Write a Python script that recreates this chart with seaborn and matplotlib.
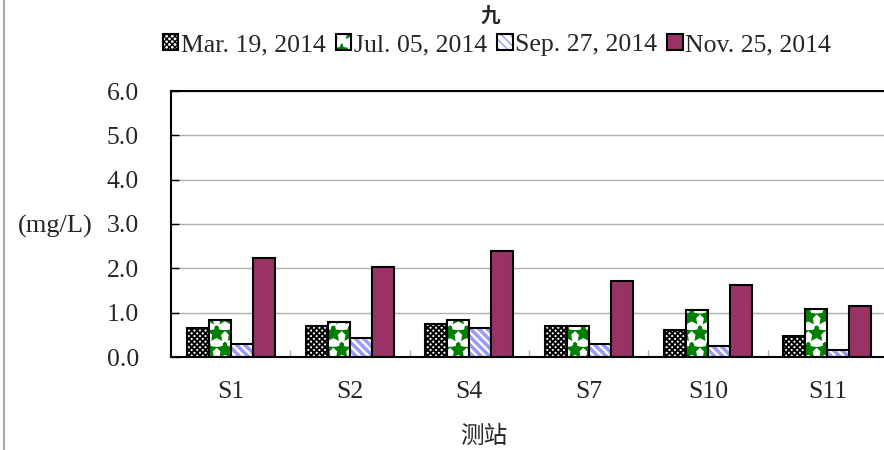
import pandas as pd
import matplotlib
matplotlib.use('Agg')
import matplotlib.pyplot as plt
import seaborn as sns
from matplotlib.colors import to_rgba
from matplotlib.lines import Line2D
from matplotlib.ticker import FixedLocator

# values (mg/L)
stations = ['S1', 'S2', 'S4', 'S7', 'S10', 'S11']
dates = ['Mar. 19, 2014', 'Jul. 05, 2014', 'Sep. 27, 2014', 'Nov. 25, 2014']
mar_19 = [0.66, 0.70, 0.74, 0.70, 0.62, 0.48]
jul_05 = [0.84, 0.79, 0.84, 0.70, 1.05, 1.08]
sep_27 = [0.29, 0.42, 0.65, 0.29, 0.25, 0.16]
nov_25 = [2.24, 2.02, 2.38, 1.71, 1.63, 1.15]
y_ticks = [0, 1, 2, 3, 4, 5, 6]

face_colors = ['white', 'white', 'white', '#993366']
hatch_colors = ['black', '#008000', '#9999ff', '#993366']
hatches = ['xxxxxx', '*', '\\\\\\\\', '']
hatch_widths = [1.4, 2.5, 2.5, 1.0]

long = pd.DataFrame({
    'station': stations * 4,
    'date': sum([[d] * len(stations) for d in dates], []),
    'value': mar_19 + jul_05 + sep_27 + nov_25,
})

sns.set_style('white')
plt.rcParams['font.family'] = ['Liberation Serif', 'Noto Sans CJK SC', 'DejaVu Sans']
plt.rcParams['hatch.linewidth'] = 1.0

fig = plt.figure(figsize=(8.84, 4.5), dpi=100)
ax = fig.add_axes([171 / 884, 93 / 450, 716 / 884, 266 / 450])

sns.barplot(data=long, x='station', y='value', hue='date', order=stations,
            hue_order=dates, palette=face_colors, width=0.74, gap=0,
            saturation=1, legend=False, ax=ax)

for i, container in enumerate(ax.containers):
    for p in container:
        p.set_facecolor(face_colors[i])
        p.set_hatch(hatches[i])
        p.set_edgecolor('black')
        p.set_linewidth(1.5)
        p._hatch_color = to_rgba(hatch_colors[i])
        if hasattr(p, 'set_hatch_linewidth'):
            p.set_hatch_linewidth(hatch_widths[i])

ax.set_ylim(0, 6)
ax.set_xlim(-0.5, len(stations) - 0.5)
ax.yaxis.set_major_locator(FixedLocator(y_ticks))
ax.set_yticklabels([f'{v:.1f}' for v in y_ticks])
ax.grid(axis='y', color='#b0b0b0', linewidth=1)
ax.set_axisbelow(True)
for s in ['left', 'top', 'bottom']:
    ax.spines[s].set_color('black')
    ax.spines[s].set_linewidth(1.5)
ax.spines['right'].set_visible(False)

ax.tick_params(axis='y', direction='in', length=6, width=1, color='black',
               pad=23, labelsize=18.5, left=True)
ax.tick_params(axis='x', length=0, pad=17, labelsize=18.5)
ax.xaxis.set_minor_locator(FixedLocator([i + 0.5 for i in range(len(stations) - 1)]))
ax.tick_params(axis='x', which='minor', direction='in', length=5, width=1,
               color='#b0b0b0', bottom=True)

ax.set_ylabel('(mg/L)', rotation=0, fontsize=19, ha='center', va='center')
ax.yaxis.set_label_coords(-0.161, 0.49)
ax.set_xlabel('测站', fontsize=17, va='center', family=['Noto Sans CJK SC'])
ax.xaxis.set_label_coords(0.437, -0.30)

# legend built from one bar of each series
handles = [c.patches[0] for c in ax.containers]
fig.legend(handles, dates, loc='center', bbox_to_anchor=(497 / 884, 1 - 45 / 450),
           ncol=4, frameon=False, fontsize=18.5, handlelength=0.6, handleheight=0.6,
           handletextpad=0.1, columnspacing=0.4, borderaxespad=0)

fig.text(490 / 884, 1 - 16 / 450, '九', ha='center', va='center', fontsize=14,
         fontweight='bold', family=['Noto Sans CJK SC'])
fig.add_artist(Line2D([0.004, 0.004], [0, 1], transform=fig.transFigure,
                      color='#aaaaaa', linewidth=1.5))

fig.savefig('out.png', dpi=100)
